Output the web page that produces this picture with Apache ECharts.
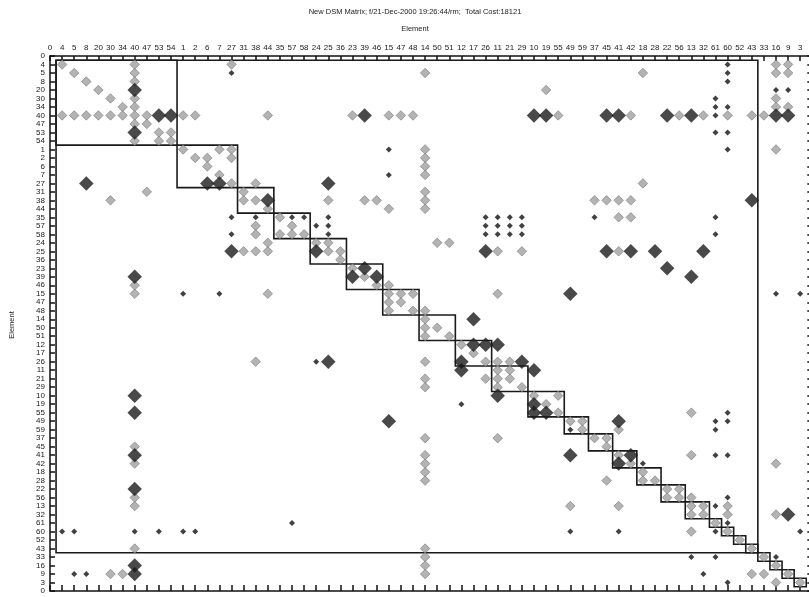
<!DOCTYPE html>
<html><head><meta charset="utf-8">
<script src="https://cdn.jsdelivr.net/npm/echarts@6/dist/echarts.min.js"></script>
<style>html,body{margin:0;padding:0;background:#fff}#c{width:809px;height:597px}</style>
</head><body><div id="c"></div>
<script>
// Element order (rows and columns share it)
const elements = ['4','5','8','20','30','34','40','47','53','54','1','2','6','7','27','31','38','44','35','57','58','24','25','36','23','39','46','15','47','48','14','50','51','12','17','26','11','21','29','10','19','55','49','59','37','45','41','42','18','28','22','56','13','32','61','60','52','43','33','16','9','3'];
const tickLabels = ['0'].concat(elements, ['0']);
// Cells as [rowIndex, colIndex] (1-based positions in the element order)
const grayCells = [
[1,1],[1,7],[1,15],[1,60],[1,61],
[2,2],[2,7],[2,31],[2,49],[2,60],[2,61],
[3,3],[3,7],
[4,4],[4,41],
[5,5],[5,7],[5,60],
[6,6],[6,7],[6,60],[6,61],
[7,1],[7,2],[7,3],[7,4],[7,5],[7,6],[7,7],[7,8],[7,11],[7,12],[7,18],[7,25],[7,28],[7,29],[7,30],[7,42],[7,48],[7,52],[7,54],[7,56],[7,58],[7,59],
[8,7],[8,8],
[9,9],[9,10],
[10,7],[10,9],[10,10],
[11,11],[11,14],[11,15],[11,31],[11,60],
[12,12],[12,13],[12,15],[12,31],
[13,13],[13,31],[14,14],[14,31],
[15,15],[15,17],[15,49],
[16,8],[16,16],[16,31],
[17,5],[17,16],[17,17],[17,23],[17,26],[17,27],[17,31],[17,45],[17,46],[17,47],[17,48],
[18,18],[18,28],[18,31],
[19,19],[19,47],[19,48],
[20,17],[20,20],
[21,17],[21,19],[21,20],[21,21],
[22,18],[22,22],[22,23],[22,32],[22,33],
[23,16],[23,17],[23,18],[23,23],[23,24],[23,37],[23,39],[23,47],
[24,24],[25,25],[26,26],
[27,7],[27,27],[27,28],
[28,7],[28,18],[28,28],[28,29],[28,30],[28,37],
[29,28],[29,29],
[30,28],[30,30],[30,31],
[31,31],
[32,31],[32,32],
[33,31],[33,33],
[34,34],[35,35],
[36,17],[36,31],[36,36],[36,37],[36,38],
[37,37],[37,38],
[38,31],[38,36],[38,37],[38,38],
[39,31],[39,37],[39,39],
[40,40],[40,42],
[41,41],
[42,42],[42,53],
[43,43],[43,44],
[44,44],[44,47],
[45,31],[45,37],[45,45],[45,46],
[46,7],[46,46],
[47,31],[47,47],[47,53],
[48,7],[48,31],[48,48],[48,60],
[49,31],[49,49],
[50,31],[50,46],[50,49],[50,50],
[51,51],[51,52],
[52,7],[52,51],[52,52],[52,53],
[53,7],[53,43],[53,47],[53,53],[53,54],[53,56],
[54,53],[54,54],[54,56],[54,60],
[55,55],
[56,53],[56,56],
[57,57],
[58,7],[58,31],[58,58],
[59,31],[59,59],[60,31],[60,60],
[61,5],[61,6],[61,31],[61,58],[61,59],[61,61],
[62,60],[62,62]
];
const bigCells = [
[4,7],[7,9],[7,10],[7,26],[7,40],[7,41],[7,46],[7,47],[7,51],[7,53],[7,60],[7,61],
[9,7],[15,3],[15,13],[15,14],[15,23],[17,18],[17,58],[23,15],[23,22],[23,36],[23,46],[23,48],[23,50],[23,54],
[25,26],[25,51],[26,7],[26,25],[26,27],[26,53],[28,43],[31,35],[34,35],[34,36],[34,37],
[36,23],[36,34],[36,39],[37,34],[37,40],[40,7],[40,37],[41,40],[42,7],[42,40],[42,41],
[43,28],[43,47],[47,7],[47,43],[47,48],[48,47],[51,7],[54,61],[60,7],[61,7]
];
const smallCells = [
[1,56],[2,15],[2,56],[3,56],[4,60],[4,61],[5,55],[6,55],[6,56],[7,55],[9,55],[9,56],
[11,28],[11,56],[14,28],[19,15],[19,17],[19,20],[19,21],[19,23],[19,36],[19,37],[19,38],[19,39],[19,45],[19,55],
[20,22],[20,23],[20,36],[20,37],[20,38],[20,39],[21,15],[21,23],[21,36],[21,37],[21,38],[21,39],[21,55],
[28,11],[28,14],[28,60],[28,62],[36,22],[41,34],[42,56],[43,55],[43,56],[44,43],[44,55],[47,55],[47,56],[48,49],
[52,56],[53,55],[55,20],[55,56],[56,1],[56,2],[56,7],[56,9],[56,11],[56,12],[56,43],[56,47],[56,55],[56,62],
[59,53],[59,55],[59,60],[61,2],[61,3],[61,54],[62,56]
];
// Cluster blocks along the diagonal: [firstIndex, lastIndex]
const clusters = [[1,10],[11,15],[16,18],[19,21],[22,24],[25,27],[28,30],[31,33],[34,36],[37,39],[40,42],[43,44],[45,46],[47,48],[49,50],[51,52],[53,54],[55,55],[56,56],[57,57],[58,58],[59,59],[60,60],[61,61],[62,62],[1,58]];

const toXY = cells => cells.map(c => [c[1], c[0]]);
const chart = echarts.init(document.getElementById('c'), null, {renderer:'canvas'});
const font = 'Liberation Sans, Arial, sans-serif';
const axisBase = {
  type:'value', min:0, max:63, interval:1,
  splitLine:{show:false},
  axisLine:{show:true, onZero:false, lineStyle:{color:'#111', width:1.5}},
  axisTick:{show:true, inside:true, length:5, lineStyle:{color:'#111', width:1.5}}
};
chart.setOption({
  animation:false,
  backgroundColor:'#fff',
  grid:{left:50, top:56, width:762.3, height:535, containLabel:false, outerBoundsMode:'none'},
  graphic:[
    {type:'text', x:415, y:12, style:{text:'New DSM Matrix; f/21-Dec-2000 19:26:44/rm;  Total Cost:18121', font:'7.5px '+font, fill:'#222', align:'center', verticalAlign:'middle'}},
    {type:'text', x:415, y:29, style:{text:'Element', font:'7.5px '+font, fill:'#222', align:'center', verticalAlign:'middle'}},
    {type:'text', x:12, y:325, rotation:Math.PI/2, style:{text:'Element', font:'7.5px '+font, fill:'#222', align:'center', verticalAlign:'middle'}}
  ],
  xAxis:[
    Object.assign({}, axisBase, {position:'top', axisLabel:{show:true, fontSize:8, fontFamily:font, color:'#222', margin:4, formatter:v=>tickLabels[v]!==undefined?tickLabels[v]:''}}),
    Object.assign({}, axisBase, {position:'bottom', axisLabel:{show:false}, axisTick:{show:true, inside:true, length:6, lineStyle:{color:'#111', width:1.5}}})
  ],
  yAxis:[
    Object.assign({}, axisBase, {position:'left', inverse:true, axisLabel:{show:true, fontSize:8, fontFamily:font, color:'#222', margin:5, formatter:v=>tickLabels[v]!==undefined?tickLabels[v]:''}}),
    Object.assign({}, axisBase, {position:'right', inverse:true, axisLabel:{show:false}})
  ],
  series:[
    {type:'custom', xAxisIndex:0, yAxisIndex:0, silent:true, z:3, clip:false,
     data:clusters,
     encode:{x:[0,1], y:[0,1]},
     renderItem:function(params, api){
       const a = api.value(0), b = api.value(1);
       const p1 = api.coord([a-0.5, a-0.5]);
       const p2 = api.coord([b+0.5, b+0.5]);
       return {type:'rect', shape:{x:Math.min(p1[0],p2[0]), y:Math.min(p1[1],p2[1]), width:Math.abs(p2[0]-p1[0]), height:Math.abs(p2[1]-p1[1])},
               style:{fill:null, stroke:'#1a1a1a', lineWidth:1.6}};
     }},
    {type:'scatter', name:'gray', symbol:'diamond', symbolSize:9.5, z:4, data:toXY(grayCells),
     itemStyle:{color:'#a0a0a0', borderColor:'#6e6e6e', borderWidth:0.7}},
    {type:'scatter', name:'big', symbol:'diamond', symbolSize:14.5, z:5, data:toXY(bigCells),
     itemStyle:{color:'#1c1c1c'}},
    {type:'scatter', name:'small', symbol:'diamond', symbolSize:6, z:5, data:toXY(smallCells),
     itemStyle:{color:'#111'}}
  ]
});
</script></body></html>
